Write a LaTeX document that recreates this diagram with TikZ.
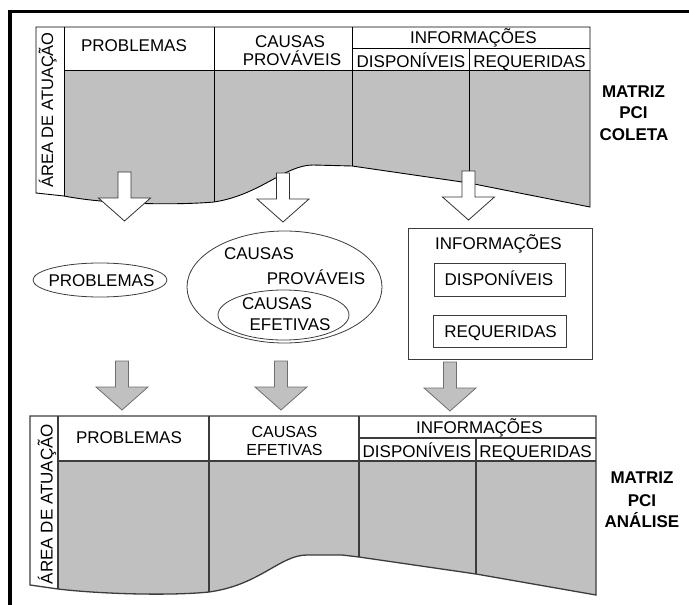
\documentclass[tikz,border=0pt]{standalone}
\usepackage{fontspec}
\setmainfont{Liberation Sans}
\usetikzlibrary{shapes.geometric}
\definecolor{fillgray}{RGB}{192,192,192}
\definecolor{edgegray}{RGB}{60,60,60}
\definecolor{arrowedge}{RGB}{110,110,110}
\begin{document}
\begin{tikzpicture}[x=1pt,y=-1pt,
  txt/.style={anchor=base,inner sep=0pt,font=\fontsize{17}{20}\selectfont},
  boldtxt/.style={anchor=base,inner sep=0pt,font=\fontsize{17}{20}\selectfont\bfseries},
  sidetxt/.style={txt,rotate=90},
  topline/.style={line width=0.9pt,black},
  botline/.style={line width=1.3pt,edgegray},
  oval/.style={draw=edgegray,line width=0.8pt,ellipse,inner sep=0pt},
  box/.style={draw=edgegray,line width=0.9pt,rectangle,inner sep=0pt},
  hollowarrow/.style={draw=black!80,fill=white,line width=0.8pt},
  grayarrow/.style={draw=arrowedge,fill=fillgray,line width=0.8pt},
  pics/blockdown/.style={code={
    \path[pic actions] (-6.5,0) -- (6.5,0) -- (6.5,26) -- (26,26) -- (0,49)
      -- (-26,26) -- (-6.5,26) -- cycle;}}
]
\useasboundingbox (0,0) rectangle (689,605);

% outer frame (open at right and bottom)
\draw[line width=3.3pt] (10,620) -- (10,11.3) -- (700,11.3);

% ---------- upper matrix: MATRIZ PCI COLETA ----------
\fill[fillgray] (64,70) -- (590,70) -- (590,207) -- (469,183) -- (352,166) -- (313,165)
  .. controls (285,165) and (260,195) .. (214,202)
  .. controls (180,205) and (110,205) .. (64,196) -- cycle;
\draw[topline] (36,27) -- (590,27) -- (590,207) -- (469,183) -- (352,166) -- (313,165)
  .. controls (285,165) and (260,195) .. (214,202)
  .. controls (180,205) and (110,205) .. (64,196) -- (36,193) -- cycle;
\draw[topline] (64,27) -- (64,196);
\draw[topline] (64,70) -- (590,70);
\draw[topline] (214,27) -- (214,202);
\draw[topline] (352,27) -- (352,166);
\draw[topline] (352,48) -- (590,48);
\draw[topline] (469,48) -- (469,183);

\node[sidetxt,font=\fontsize{16.5}{20}\selectfont] (areaA) at (53,110) {ÁREA DE ATUAÇÃO};
\node[txt] (probA) at (134,51.5) {PROBLEMAS};
\node[txt] (causA1) at (290,47) {CAUSAS};
\node[txt] (causA2) at (292,65) {PROVÁVEIS};
\node[txt] (infoA) at (473.5,43.5) {INFORMAÇÕES};
\node[txt] (dispA) at (411,67) {DISPONÍVEIS};
\node[txt] (reqA) at (529.5,67) {REQUERIDAS};
\node[boldtxt] (matA1) at (633.5,97) {MATRIZ};
\node[boldtxt] (matA2) at (633.5,118.5) {PCI};
\node[boldtxt] (matA3) at (634,140) {COLETA};

% hollow arrows out of the upper matrix
\pic[hollowarrow] (arrA1) at (124.5,172) {blockdown};
\pic[hollowarrow] (arrA2) at (283,173) {blockdown};
\pic[hollowarrow] (arrA3) at (468.5,171) {blockdown};

% ---------- middle: classification ----------
\node[oval,minimum width=134pt,minimum height=34pt] (probOval) at (100,280) {};
\node[txt] (probM) at (101.5,286) {PROBLEMAS};

\node[oval,minimum width=195pt,minimum height=112pt] (causOval) at (284.5,287) {};
\node[oval,minimum width=131pt,minimum height=50pt] (efetOval) at (283.5,315) {};
\node[txt] (causM1) at (259,259) {CAUSAS};
\node[txt] (causM2) at (316,284) {PROVÁVEIS};
\node[txt] (efetM1) at (277,309) {CAUSAS};
\node[txt] (efetM2) at (290,330) {EFETIVAS};

\node[box,minimum width=184pt,minimum height=131pt] (infoBox) at (500,293.5) {};
\node[txt] (infoM) at (498.5,249) {INFORMAÇÕES};
\node[box,minimum width=131pt,minimum height=33pt] (dispBox) at (499.5,279.5) {};
\node[txt] (dispM) at (499,285) {DISPONÍVEIS};
\node[box,minimum width=133pt,minimum height=32pt] (reqBox) at (499.5,331) {};
\node[txt] (reqM) at (500.5,337) {REQUERIDAS};

% gray arrows into the lower matrix
\pic[grayarrow] (arrB1) at (122,361) {blockdown};
\pic[grayarrow] (arrB2) at (281,361) {blockdown};
\pic[grayarrow] (arrB3) at (450,362) {blockdown};

% ---------- lower matrix: MATRIZ PCI ANÁLISE ----------
\fill[fillgray] (58,461) -- (596,461) -- (596,595) -- (476,574) -- (359,557) -- (342,555) -- (307,555)
  .. controls (280,555) and (260,585) .. (209,592)
  .. controls (170,596) and (100,594) .. (58,589) -- cycle;
\draw[botline] (30,416) -- (596,416) -- (596,595) -- (476,574) -- (359,557) -- (342,555) -- (307,555)
  .. controls (280,555) and (260,585) .. (209,592)
  .. controls (170,596) and (100,594) .. (58,589) -- (30,585) -- cycle;
\draw[botline] (58,416) -- (58,589);
\draw[botline] (58,461) -- (596,461);
\draw[botline] (209,416) -- (209,592);
\draw[botline] (359,416) -- (359,557);
\draw[botline] (359,438) -- (596,438);
\draw[botline] (476,438) -- (476,574);

\node[sidetxt] (areaB) at (52.5,504) {ÁREA DE ATUAÇÃO};
\node[txt] (probB) at (129,443.5) {PROBLEMAS};
\node[txt,font=\fontsize{16}{18}\selectfont] (causB1) at (284.5,437) {CAUSAS};
\node[txt,font=\fontsize{16}{18}\selectfont] (causB2) at (284.5,455) {EFETIVAS};
\node[txt] (infoB) at (479.5,433.5) {INFORMAÇÕES};
\node[txt] (dispB) at (417,457) {DISPONÍVEIS};
\node[txt] (reqB) at (535.5,457) {REQUERIDAS};
\node[boldtxt] (matB1) at (642,483.5) {MATRIZ};
\node[boldtxt] (matB2) at (642,506) {PCI};
\node[boldtxt] (matB3) at (642,527) {ANÁLISE};
\end{tikzpicture}
\end{document}
